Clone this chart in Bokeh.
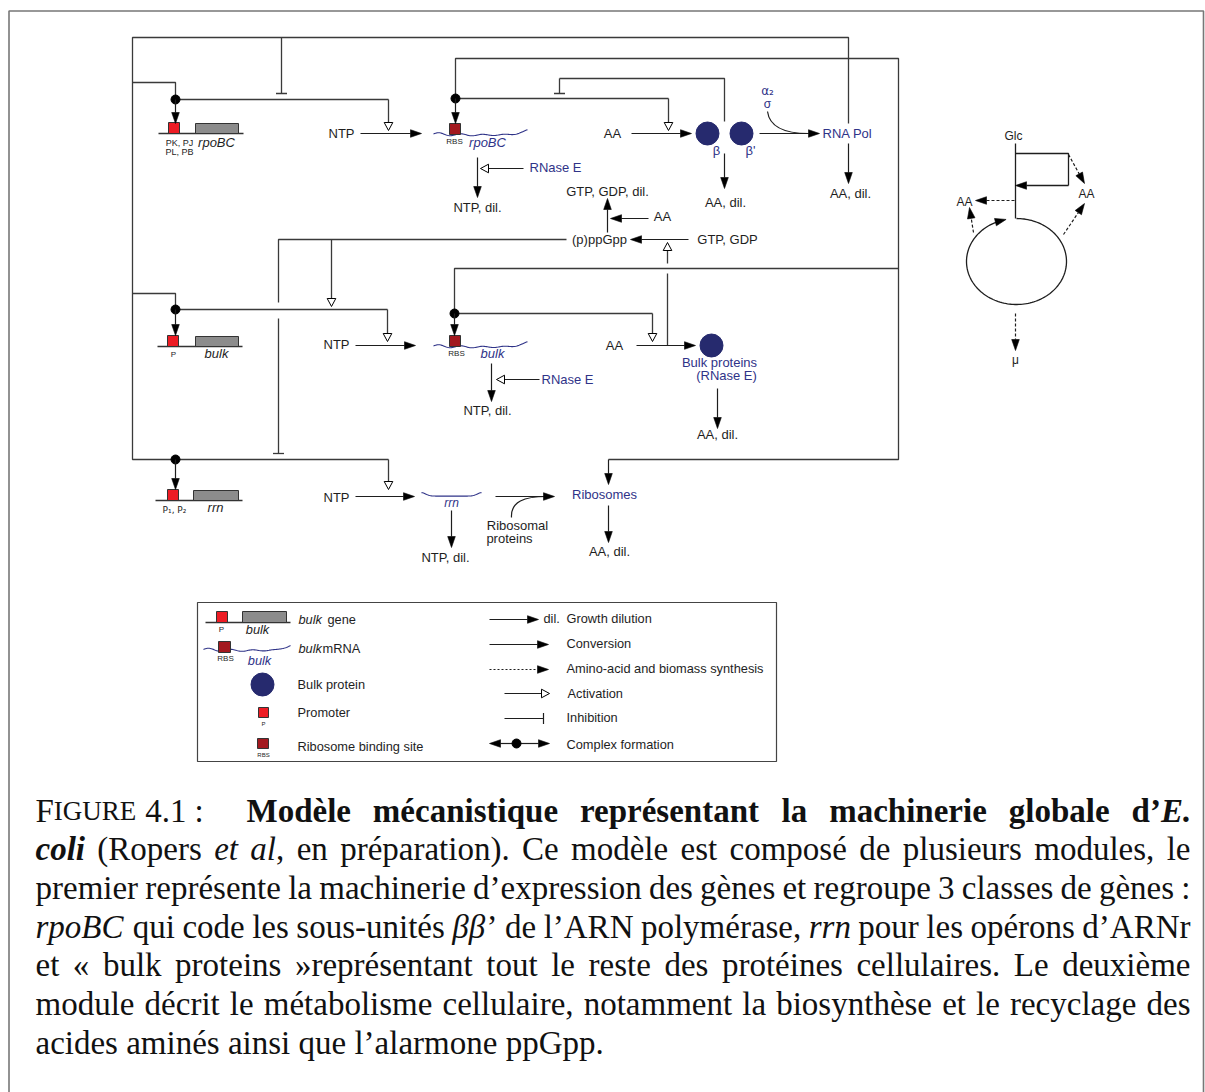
import math
import re
import unicodedata
import numpy as np
from bokeh.plotting import figure
from bokeh.models import Range1d
from bokeh.embed import file_html
from bokeh.resources import INLINE
from bokeh.core.properties import value

# ---------------- content ----------------
GENES = ["rpoBC", "bulk", "rrn"]
PROMOTER_LABELS = [["PK, PJ", "PL, PB"], ["P"], ["P\u2081, P\u2082"]]
SUBSTRATE = "NTP"
DEGRADED_NTP = "NTP, dil."
AMINO = "AA"
DEGRADED_AA = "AA, dil."
RNASE = "RNase E"
RNAPOL = "RNA Pol"
BETAS = ["\u03b2", "\u03b2'"]
SIGMA = ["\u03b1\u2082", "\u03c3"]
ALARMONE = ["(p)ppGpp", "GTP, GDP", "GTP, GDP, dil."]
BULK_PROT = ["Bulk proteins", "(RNase E)"]
RIBO = ["Ribosomes", "Ribosomal", "proteins"]
METAB = ["Glc", "AA", "AA", "\u03bc"]
LEGEND_LEFT = ["gene", "mRNA", "Bulk protein", "Promoter", "Ribosome binding site"]
LEGEND_RIGHT = ["Growth dilution", "Conversion", "Amino-acid and biomass synthesis",
                "Activation", "Inhibition", "Complex formation"]
CAPTION_HEAD = ["F", "IGURE", "4.1", ":"]
CAPTION = [
    "{b}Modèle mécanistique représentant la machinerie globale d\u2019{bi}E.",
    "{bi}coli {n}(Ropers {i}et al{n}, en préparation). Ce modèle est composé de plusieurs modules, le",
    "premier représente la machinerie d\u2019expression des gènes et regroupe 3 classes de gènes :",
    "{i}rpoBC {n}qui code les sous-unités {i}\u03b2\u03b2{n}\u2019 de l\u2019ARN polymérase, {i}rrn {n}pour les opérons d\u2019ARNr",
    "et « bulk proteins »représentant tout le reste des protéines cellulaires. Le deuxième",
    "module décrit le métabolisme cellulaire, notamment la biosynthèse et le recyclage des",
    "acides aminés ainsi que l\u2019alarmone ppGpp.",
]

# ---------------- figure ----------------
W, H = 1205, 1092
p = figure(width=W, height=H, x_range=Range1d(0, W), y_range=Range1d(H, 0),
           output_backend="svg", toolbar_location=None, min_border=0,
           x_axis_location=None, y_axis_location=None)
p.grid.visible = False
p.outline_line_color = None
p.background_fill_color = "white"
p.border_fill_color = "white"

INK = "#1e1e1e"
FRAME = "#3a3a3a"
BLUE = "#2f3388"
NAVY = "#262a6e"
RED = "#ed1c24"
RBSC = "#a3191f"
GREY = "#8c8c8c"
SANS = value("Liberation Sans")
SERIF = value("Liberation Serif")
DJV = value("DejaVu Sans")
LEG = 12.8

fill_heads = {"xs": [], "ys": []}
open_heads = {"xs": [], "ys": []}


def line(pts, color=INK, w=1.2, dash="solid"):
    xs = [q[0] for q in pts]
    ys = [q[1] for q in pts]
    p.line(xs, ys, line_color=color, line_width=w, line_dash=dash)


def head_pts(x0, y0, x1, y1, L, hw):
    dx, dy = x1 - x0, y1 - y0
    n = math.hypot(dx, dy)
    ux, uy = dx / n, dy / n
    bx, by = x1 - ux * L, y1 - uy * L
    return [x1, bx - uy * hw, bx + uy * hw], [y1, by + ux * hw, by - ux * hw], (bx, by)


def arrow(x0, y0, x1, y1, kind="f", color=INK, w=1.2, dash="solid"):
    if kind == "f":
        hx, hy, b = head_pts(x0, y0, x1, y1, 11, 3.8)
        line([(x0, y0), b], color, w, dash)
        fill_heads["xs"].append(hx)
        fill_heads["ys"].append(hy)
    elif kind == "o":
        hx, hy, b = head_pts(x0, y0, x1, y1, 8, 4.3)
        line([(x0, y0), b], color, w, dash)
        open_heads["xs"].append(hx)
        open_heads["ys"].append(hy)
    else:
        line([(x0, y0), (x1, y1)], color, w)
        dx, dy = x1 - x0, y1 - y0
        n = math.hypot(dx, dy)
        ux, uy = dx / n, dy / n
        h = 5.5
        line([(x1 - uy * h, y1 + ux * h), (x1 + uy * h, y1 - ux * h)], color, w)


def txt(x, y, s, size=13, color=INK, align="center", style="normal", font=SANS, baseline="middle"):
    p.text([x], [y], text=[s], text_align=align, text_baseline=baseline, text_font=font,
           text_font_size=f"{size}px", text_color=color, text_font_style=style)


def dot(x, y):
    p.scatter([x], [y], size=9, marker="circle", fill_color="black", line_color="black")


def box(l, r, t, b, fill, lc="#333333"):
    p.quad(left=[l], right=[r], top=[t], bottom=[b], fill_color=fill, line_color=lc, line_width=1)


def wave_std(x0, y0, length=94, scale=1.0):
    xs = np.linspace(0, length, 90)
    dy = -1.6 * np.sin(2 * np.pi * xs / 22.0) * np.exp(-xs / 60.0) + 1.0 * np.sin(np.pi * xs / length)
    tail = np.clip((xs - (length - 16)) / 16.0, 0, None)
    dy = dy - 4.0 * tail ** 1.5
    p.line(list(x0 + xs * scale), list(y0 + dy), line_color=BLUE, line_width=1.1)


# ---------------- outer frame ----------------
line([(8.5, 1100), (8.5, 10.5), (1203, 10.5), (1203, 1100)], color="#777777", w=1.6)

# ---------------- gene rows ----------------
rows = [
    dict(yb=133, pl=168, bx=(195, 238), base=(158, 243)),
    dict(yb=346, pl=167, bx=(195, 238), base=(157, 242)),
    dict(yb=500, pl=167, bx=(193, 238), base=(155, 242)),
]
for r in rows:
    line([(r["base"][0], r["yb"]), (r["base"][1], r["yb"])], color="#333333", w=1.3)
    box(r["pl"], r["pl"] + 11, r["yb"] - 11, r["yb"], RED)
    box(r["bx"][0], r["bx"][1], r["yb"] - 10, r["yb"], GREY)

txt(179, 142, PROMOTER_LABELS[0][0], size=9)
txt(179, 151, PROMOTER_LABELS[0][1], size=9)
txt(216, 142, GENES[0], size=13, style="italic")
txt(173, 354, PROMOTER_LABELS[1][0], size=8)
txt(216, 353, GENES[1], size=13, style="italic")
txt(174, 509, PROMOTER_LABELS[2][0], size=9, font=DJV)
txt(215, 507, GENES[2], size=13, style="italic")

# mRNAs
wave_std(433, 133.5)
box(449, 460, 123, 134, RBSC)
txt(454, 141, "RBS", size=8)
txt(487, 142, GENES[0], size=13, style="italic", color=BLUE)

wave_std(433, 345.5)
box(449, 460, 335, 346, RBSC)
txt(456, 353, "RBS", size=8)
txt(492, 353, GENES[1], size=13, style="italic", color=BLUE)

xr = np.linspace(421, 481, 60)
yr = 495 + 0.6 - 3.5 * np.exp(-((xr - 421) / 6.0) ** 2) - 3.5 * np.exp(-((xr - 481) / 6.0) ** 2)
p.line(list(xr), list(yr), line_color=BLUE, line_width=1.1)
txt(451, 502, GENES[2], size=12, style="italic", color=BLUE)

# ---------------- regulatory frame lines ----------------
line([(848, 123), (848, 37), (132, 37), (132, 459), (388, 459)], color=FRAME, w=1.3)
arrow(388, 459, 388, 489, "o", color=FRAME, w=1.3)
line([(132, 82), (175, 82), (175, 99)], color=FRAME, w=1.3)
line([(175, 99), (388, 99)], color=FRAME, w=1.3)
arrow(388, 99, 388, 130, "o", color=FRAME, w=1.3)
arrow(281, 37, 281, 93, "t", color=FRAME, w=1.3)
dot(175, 99)
arrow(175, 99, 175, 123)

line([(455, 98), (455, 58), (898, 58), (898, 459), (608, 459)], color=FRAME, w=1.3)
arrow(608, 459, 608, 484)
line([(455, 98), (668, 98)], color=FRAME, w=1.3)
arrow(668, 98, 668, 130, "o", color=FRAME, w=1.3)
dot(455, 98)
arrow(455, 98, 455, 123)
line([(724, 121), (724, 78), (559, 78)], color=FRAME, w=1.3)
arrow(559, 78, 559, 93, "t", color=FRAME, w=1.3)

line([(566, 239), (278, 239), (278, 302)], color=FRAME, w=1.3)
arrow(278, 318, 278, 453, "t", color=FRAME, w=1.3)
arrow(331, 239, 331, 306, "o", color=FRAME, w=1.3)

line([(132, 293), (175, 293), (175, 309)], color=FRAME, w=1.3)
line([(175, 309), (387, 309)], color=FRAME, w=1.3)
arrow(387, 309, 387, 341, "o", color=FRAME, w=1.3)
dot(175, 309)
arrow(175, 309, 175, 335)

line([(454, 313), (454, 268), (898, 268)], color=FRAME, w=1.3)
line([(454, 313), (652, 313)], color=FRAME, w=1.3)
arrow(652, 313, 652, 341, "o", color=FRAME, w=1.3)
dot(454, 313)
arrow(454, 313, 454, 335)

line([(667, 345), (667, 273)], color=FRAME, w=1.3)
arrow(667, 263, 667, 242, "o", color=FRAME, w=1.3)

dot(175, 459)
arrow(175, 459, 175, 489)

# ---------------- conversions ----------------
txt(341, 133, SUBSTRATE)
arrow(360, 133, 421, 133)
txt(612, 133, AMINO)
arrow(631, 133, 691, 133)
p.scatter([707, 741], [133, 133], size=23, marker="circle", fill_color=NAVY, line_color=NAVY)
txt(716, 150, BETAS[0], color=BLUE)
txt(750, 150, BETAS[1], color=BLUE)
arrow(759, 133, 819, 133)
p.bezier(x0=[767], y0=[111], x1=[808], y1=[133], cx0=[769], cy0=[126], cx1=[784], cy1=[133],
         line_color=INK, line_width=1.2)
txt(767, 90, SIGMA[0], size=12, color=BLUE, font=DJV)
txt(767, 103, SIGMA[1], size=12, color=BLUE)
txt(847, 133, RNAPOL, color=BLUE)
arrow(848, 143, 848, 183)
txt(850, 193, DEGRADED_AA)
arrow(724, 153, 724, 188)
txt(725, 202, DEGRADED_AA)
arrow(477, 157, 477, 197)
txt(477, 207, DEGRADED_NTP)
arrow(523, 168, 480, 168, "o")
txt(555, 167, RNASE, color=BLUE)

txt(607, 191, ALARMONE[2])
arrow(607, 232, 607, 198)
txt(662, 216, AMINO)
arrow(648, 218, 610, 218)
txt(599, 239, ALARMONE[0])
arrow(688, 239, 630, 239)
txt(727, 239, ALARMONE[1])

txt(336, 344, SUBSTRATE)
arrow(355, 345, 415, 345)
arrow(491, 363, 491, 401)
txt(487, 410, DEGRADED_NTP)
arrow(539, 379, 496, 379, "o")
txt(567, 379, RNASE, color=BLUE)
txt(614, 345, AMINO)
arrow(636, 345, 695, 345)
p.scatter([711], [345], size=23, marker="circle", fill_color=NAVY, line_color=NAVY)
txt(719, 362, BULK_PROT[0], color=BLUE)
txt(726, 375, BULK_PROT[1], color=BLUE)
arrow(717, 388, 717, 428)
txt(717, 434, DEGRADED_AA)

txt(336, 497, SUBSTRATE)
arrow(355, 496, 414, 496)
arrow(451, 510, 451, 547)
txt(445, 557, DEGRADED_NTP)
arrow(495, 496, 554, 496)
p.bezier(x0=[511], y0=[517], x1=[546], y1=[496], cx0=[510], cy0=[501], cx1=[524], cy1=[496],
         line_color=INK, line_width=1.2)
txt(517, 525, RIBO[1])
txt(509, 538, RIBO[2])
txt(604, 494, RIBO[0], color=BLUE)
arrow(608, 505, 608, 542)
txt(609, 551, DEGRADED_AA)

# ---------------- metabolism panel ----------------
txt(1013, 135, METAB[0], size=12)
line([(1015, 143), (1015, 218)], w=1.3)
line([(1015, 153), (1068, 153), (1068, 185)], w=1.3)
arrow(1068, 185, 1015, 185, w=1.3)
arrow(1068, 154, 1084, 183, dash="3 2")
txt(1086, 193, METAB[1], size=12)
arrow(1014, 200, 975, 200, dash="3 2")
txt(964, 201, METAB[2], size=12)
arrow(973, 232, 969, 207, dash="3 2")
arrow(1063, 234, 1084, 203, dash="3 2")
th = np.linspace(np.radians(-90), np.radians(258), 160)
ex = 1016 + 50 * np.cos(th)
ey = 261 + 43 * np.sin(th)
p.line(list(ex[:-4]), list(ey[:-4]), line_color=INK, line_width=1.3)
hx, hy, _ = head_pts(ex[-5], ey[-5], ex[-1], ey[-1], 11, 3.8)
fill_heads["xs"].append(hx)
fill_heads["ys"].append(hy)
arrow(1015, 313, 1015, 350, dash="3 2")
txt(1015, 359, METAB[3], size=12)

# ---------------- legend ----------------
p.quad(left=[197], right=[776], top=[602], bottom=[761], fill_color=None, line_color="#444444", line_width=1.2)
line([(205, 622), (290, 622)], color="#333333", w=1.3)
box(216, 227, 611, 622, RED)
box(242, 286, 611, 622, GREY)
txt(221, 629, "P", size=8)
txt(257, 629, "bulk", size=LEG, style="italic")
txt(298, 619, "bulk", size=LEG, style="italic", align="left")
txt(327, 619, LEGEND_LEFT[0], size=LEG, align="left")

wave_std(203, 649, length=87)
box(218, 230, 641, 652, RBSC)
txt(225, 658, "RBS", size=8)
txt(259, 660, "bulk", size=LEG, style="italic", color=BLUE)
txt(298, 648, "bulk", size=LEG, style="italic", align="left")
txt(322, 648, LEGEND_LEFT[1], size=LEG, align="left")

p.scatter([262], [684], size=23, marker="circle", fill_color=NAVY, line_color=NAVY)
txt(297, 684, LEGEND_LEFT[2], size=LEG, align="left")
box(258, 268, 707, 717, RED)
txt(263, 723, "P", size=6)
txt(297, 712, LEGEND_LEFT[3], size=LEG, align="left")
box(257, 268, 738, 748, RBSC)
txt(263, 754, "RBS", size=6)
txt(297, 746, LEGEND_LEFT[4], size=LEG, align="left")

arrow(489, 619, 538, 619)
txt(543, 618, "dil.", size=LEG, align="left")
txt(566, 618, LEGEND_RIGHT[0], size=LEG, align="left")
arrow(489, 644, 548, 644)
txt(566, 643, LEGEND_RIGHT[1], size=LEG, align="left")
arrow(489, 669, 548, 669, dash="2 2")
txt(566, 668, LEGEND_RIGHT[2], size=LEG, align="left")
arrow(504, 693, 549, 693, "o")
txt(567, 693, LEGEND_RIGHT[3], size=LEG, align="left")
arrow(504, 718, 543, 718, "t")
txt(566, 717, LEGEND_RIGHT[4], size=LEG, align="left")
arrow(516, 743, 489, 743)
arrow(516, 743, 549, 743)
p.scatter([516], [743], size=9, marker="circle", fill_color="black", line_color="black")
txt(566, 744, LEGEND_RIGHT[5], size=LEG, align="left")

p.patches(fill_heads["xs"], fill_heads["ys"], fill_color="black", line_color="black", line_width=0.6)
p.patches(open_heads["xs"], open_heads["ys"], fill_color="white", line_color="black", line_width=1.0)

# ---------------- caption ----------------
LOW = "abcdefghijklmnopqrstuvwxyz"
TN_L = [444, 500, 444, 500, 444, 333, 500, 500, 278, 278, 500, 278, 778, 500, 500, 500, 500, 333, 389, 278, 500, 500, 722, 500, 500, 444]
TB_L = [500, 556, 444, 556, 444, 333, 500, 556, 278, 333, 556, 278, 833, 556, 500, 556, 556, 444, 389, 333, 556, 500, 722, 500, 500, 444]
TI_L = [500, 500, 444, 500, 444, 278, 500, 500, 278, 278, 444, 278, 722, 500, 500, 500, 500, 389, 389, 278, 500, 444, 667, 444, 444, 389]
TBI_L = [500, 500, 444, 500, 444, 333, 500, 556, 278, 278, 500, 278, 778, 556, 500, 500, 500, 389, 389, 278, 556, 444, 667, 500, 444, 389]
UP = "ABCDEFGHIJKLMNOPQRSTUVWXYZ"
TN_U = [722, 667, 667, 722, 611, 556, 722, 722, 333, 389, 722, 611, 889, 722, 722, 556, 722, 667, 556, 611, 722, 722, 944, 722, 722, 611]
PUNCT = {" ": 250, ".": 250, ",": 250, ":": 278, ";": 278, "\u2019": 333, "'": 180, "(": 333, ")": 333,
         "-": 333, "«": 500, "»": 500, "\u03b2": 520}
TABLES = {"n": dict(zip(LOW, TN_L)), "b": dict(zip(LOW, TB_L)), "i": dict(zip(LOW, TI_L)), "bi": dict(zip(LOW, TBI_L))}
UPPER = dict(zip(UP, TN_U))


def char_w(ch, st):
    base = unicodedata.normalize("NFD", ch)[0]
    if base in TABLES[st]:
        return TABLES[st][base]
    if base in UPPER:
        return UPPER[base] * (1.06 if "b" in st else 1.0)
    if base.isdigit():
        return 500
    return PUNCT.get(base, 500)


def parse(line_s):
    st = "n"
    words = []
    for wd in line_s.split(" "):
        runs = []
        parts = re.split(r"\{(n|b|i|bi)\}", wd)
        for j, part in enumerate(parts):
            if j % 2 == 1:
                st = part
            elif part:
                runs.append((part, st))
        words.append(runs)
    return words


S = 33
SC = 27
STYLE = {"n": "normal", "b": "bold", "i": "italic", "bi": "bold italic"}
groups = {k: {"x": [], "y": [], "t": []} for k in STYLE}


def run_w(t, st, size=S):
    return sum(char_w(c, st) for c in t) * size / 1000.0


BASE0 = 810
LSTEP = 38.7
fx = 35
groups["n"]["x"].append(fx); groups["n"]["y"].append(BASE0); groups["n"]["t"].append(CAPTION_HEAD[0])
fx += run_w(CAPTION_HEAD[0], "n")
small = {"x": [fx], "y": [BASE0], "t": [CAPTION_HEAD[1]]}
fx += run_w(CAPTION_HEAD[1], "n", SC) + 9
groups["n"]["x"].append(fx); groups["n"]["y"].append(BASE0); groups["n"]["t"].append(CAPTION_HEAD[2])
fx += run_w(CAPTION_HEAD[2], "n") + 8
groups["n"]["x"].append(fx); groups["n"]["y"].append(BASE0); groups["n"]["t"].append(CAPTION_HEAD[3])

for k, ln in enumerate(CAPTION):
    words = parse(ln)
    y = BASE0 + k * LSTEP
    L = 246 if k == 0 else 35
    R = 1190
    widths = [sum(run_w(t, st) for t, st in wd) for wd in words]
    if k == len(CAPTION) - 1:
        gap = 250 * S / 1000.0
    else:
        gap = (R - L - sum(widths)) / (len(words) - 1)
    x = L
    for wd, wv in zip(words, widths):
        xx = x
        for t, st in wd:
            groups[st]["x"].append(xx); groups[st]["y"].append(y); groups[st]["t"].append(t)
            xx += run_w(t, st)
        x += wv + gap

for st, g in groups.items():
    if g["t"]:
        p.text(g["x"], g["y"], text=g["t"], text_align="left", text_baseline="alphabetic",
               text_font=SERIF, text_font_size=f"{S}px", text_font_style=STYLE[st], text_color="#111111")
p.text(small["x"], small["y"], text=small["t"], text_align="left", text_baseline="alphabetic",
       text_font=SERIF, text_font_size=f"{SC}px", text_color="#111111")

open("out.html", "w").write(file_html(p, INLINE))
